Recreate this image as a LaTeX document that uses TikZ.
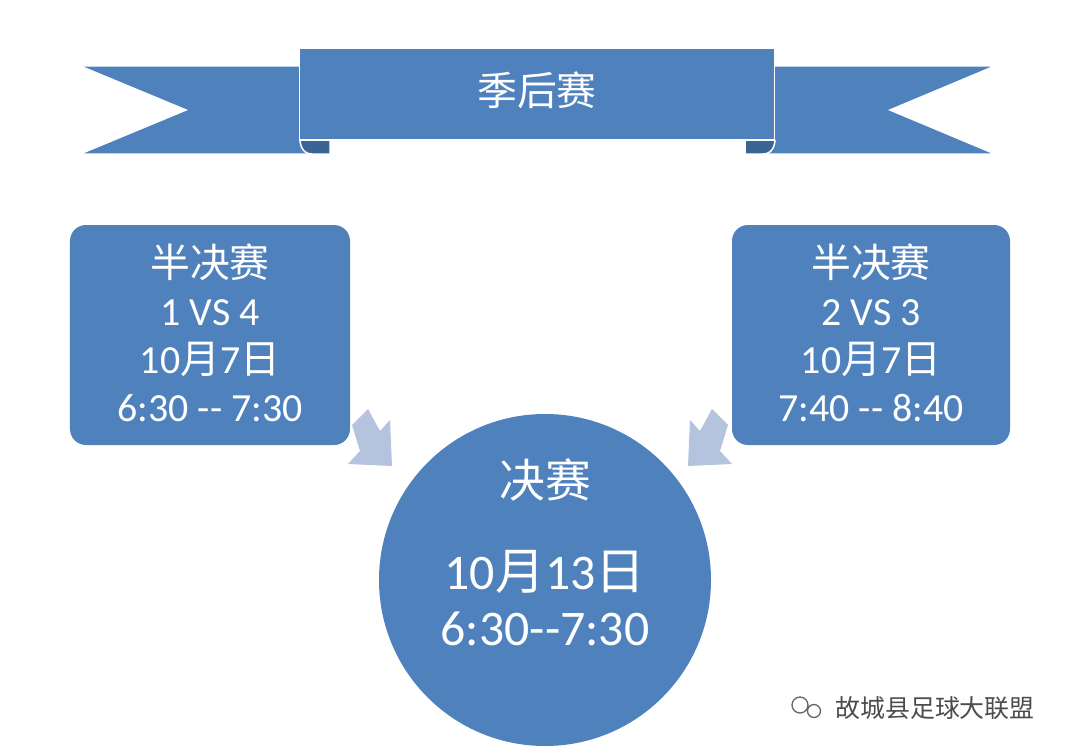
\documentclass[tikz,border=0pt]{standalone}
\usepackage{fontspec}
\setmainfont{Carlito}
\newfontfamily\cjk{Noto Sans CJK SC}
\begin{document}
\begin{tikzpicture}[x=1bp,y=-1bp]
\definecolor{rb}{HTML}{4F81BD}
\definecolor{rbd}{HTML}{3A6496}
\definecolor{ar}{HTML}{B4C3DE}
\tikzset{box/.style={fill=rb,rounded corners=16bp},
 txt/.style={text=white,font=\fontsize{40}{48}\selectfont,align=center},
 big/.style={text=white,font=\fontsize{50}{56}\selectfont,align=center},
 arr/.style={fill=ar}}
\useasboundingbox (0,0) rectangle (1080,756);
\fill[white] (0,0) rectangle (1080,756);
% ribbon tails
\fill[rb,draw=white,line width=1.5bp] (80,66) -- (330,66) -- (330,154) -- (80,154) -- (186,110) -- cycle;
\fill[rb,draw=white,line width=1.5bp] (995,66) -- (745,66) -- (745,154) -- (995,154) -- (890,110) -- cycle;
\fill[rbd,draw=white,line width=1.5bp] (300,140) -- (330,140) -- (330,154) -- (312,154) .. controls (300,154) and (300,140) .. (300,140);
\fill[rbd,draw=white,line width=1.5bp] (775,140) -- (745,140) -- (745,154) -- (763,154) .. controls (775,154) and (775,140) .. (775,140);
\node[rb,fill=rb,draw=white,line width=1.5bp,minimum width=475bp,minimum height=92bp,inner sep=0] (banner) at (537,94) {};
\node[txt,font=\cjk\fontsize{40}{48}\selectfont] (t) at (537,90) {季后赛};
% boxes
\node[box,minimum width=280bp,minimum height=220bp] (l) at (210,335) {};
\node[txt] (lt) at (210,333) {{\cjk 半决赛}\\1 VS 4\\10{\cjk 月}7{\cjk 日}\\6:30 -{}- 7:30};
\node[box,minimum width=278bp,minimum height=220bp] (r) at (871,335) {};
\node[txt] (rt) at (871,333) {{\cjk 半决赛}\\2 VS 3\\10{\cjk 月}7{\cjk 日}\\7:40 -{}- 8:40};
% arrows
\fill[arr] (352,425) -- (368,409) -- (380,431) -- (390,420) -- (392,466) -- (348,464) -- (360,451) -- cycle;
\fill[arr] (728,425) -- (712,409) -- (700,431) -- (690,420) -- (688,466) -- (732,464) -- (720,451) -- cycle;
% final
\node[circle,fill=rb,minimum size=332bp] (f) at (545,580) {};
\node[big,font=\cjk\fontsize{46}{56}\selectfont] (ft) at (545,480) {决赛};
\node[big] (fd) at (545,598) {10{\cjk 月}13{\cjk 日}\\6:30-{}-7:30};
% watermark
\node[text=black!70,font=\cjk\fontsize{25}{28}\selectfont] (w) at (935,708) {故城县足球大联盟};
\draw[black!60,line width=1.3bp] (800,705) circle (8bp) (814,711) circle (6.5bp);
\end{tikzpicture}
\end{document}
